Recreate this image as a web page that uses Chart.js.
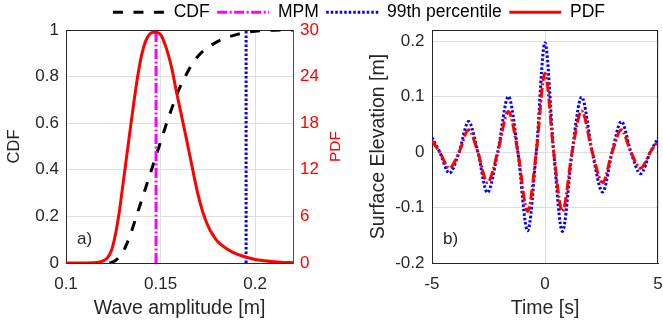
<!DOCTYPE html>
<html>
<head>
<meta charset="utf-8">
<script src="https://cdn.jsdelivr.net/npm/chart.js@4.4.1/dist/chart.umd.min.js"></script>
<style>
  html, body { margin: 0; padding: 0; background: #ffffff; overflow: hidden; width: 663px; height: 327px; }
  #wrap { position: relative; width: 663px; height: 327px; overflow: hidden; }
  canvas { position: absolute; }
  #cLeft { left: 0; top: 0; }
  #cRight { left: 350px; top: 0; }
  #cLegend { left: 55px; top: -4px; }
</style>
</head>
<body>
<div id="wrap">
  <canvas id="cLeft" width="350" height="327"></canvas>
  <canvas id="cRight" width="313" height="327"></canvas>
  <canvas id="cLegend" width="608" height="90"></canvas>
</div>
<script>
// ---------------- DATA ----------------
// Panel a): PDF of wave amplitude
const pdfAmplitude = [0.100,0.110,0.116,0.119,0.122,0.124,0.126,0.128,0.130,0.132,0.134,0.136,0.138,0.140,0.142,0.144,0.146,0.1476,0.150,0.152,0.154,0.156,0.158,0.160,0.162,0.164,0.166,0.168,0.170,0.172,0.174,0.176,0.178,0.180,0.184,0.188,0.192,0.196,0.200,0.205,0.210,0.215,0.220];
const pdfValues    = [0,0,0.05,0.2,0.7,1.6,3.5,6.3,9.9,13.6,17.3,20.9,24.2,26.8,28.5,29.4,29.7,29.7,29.4,28.4,26.9,25.0,22.5,20.2,17.9,15.6,13.2,10.8,8.6,6.8,5.4,4.3,3.5,2.8,2.0,1.4,1.0,0.7,0.45,0.28,0.15,0.08,0.04];
// Panel a): CDF of wave amplitude
const cdfAmplitude = [0.123,0.126,0.128,0.130,0.132,0.134,0.136,0.138,0.140,0.142,0.144,0.146,0.148,0.150,0.152,0.154,0.156,0.158,0.160,0.163,0.166,0.170,0.175,0.180,0.185,0.190,0.195,0.200,0.210,0.220];
const cdfValues    = [0,0.01,0.025,0.045,0.08,0.12,0.17,0.22,0.27,0.32,0.37,0.42,0.47,0.52,0.57,0.62,0.665,0.71,0.75,0.80,0.845,0.89,0.925,0.95,0.968,0.98,0.99,0.995,0.999,1.0];
// Vertical markers (amplitude, CDF extent)
const mpmAmplitude = [0.1476, 0.1476];
const p99Amplitude = [0.1952, 0.1952];
const markerCdf    = [0, 1];

// Panel b): surface elevation time series
const timeSec      = [-5,-4.66,-4.23,-3.8,-3.38,-2.97,-2.55,-2.09,-1.62,-1.2,-0.77,-0.385,0,0.385,0.77,1.2,1.62,2.09,2.55,2.97,3.38,3.8,4.23,4.66,5];
const elevP99      = [0.026,0,-0.038,0,0.055,0,-0.073,0,0.1,0,-0.142,0,0.197,0,-0.143,0,0.099,0,-0.072,0,0.055,0,-0.039,0,0.025];
const elevMPM      = [0.02,0,-0.029,0,0.04,0,-0.055,0,0.073,0,-0.107,0,0.142,0,-0.107,0,0.074,0,-0.055,0,0.04,0,-0.029,0,0.02];

// Tick values / labels
const ampTicks       = [0.1, 0.15, 0.2];
const ampTickLabels  = ['0.1', '0.15', '0.2'];
const cdfTicks       = [0, 0.2, 0.4, 0.6, 0.8, 1];
const cdfTickLabels  = ['0', '0.2', '0.4', '0.6', '0.8', '1'];
const pdfTicks       = [0, 6, 12, 18, 24, 30];
const pdfTickLabels  = ['0', '6', '12', '18', '24', '30'];
const timeTicks      = [-5, 0, 5];
const timeTickLabels = ['-5', '0', '5'];
const elevTicks      = [-0.2, -0.1, 0, 0.1, 0.2];
const elevTickLabels = ['-0.2', '-0.1', '0', '0.1', '0.2'];

// ---------------- STYLE ----------------
const FONT = "'Liberation Sans', Arial, Helvetica, sans-serif";
Chart.defaults.font.family = FONT;
Chart.defaults.color = '#262626';
const AXIS = '#262626';
const GRID = '#dfdfdf';

const styleCDF  = { label: 'CDF', borderColor: '#000000', borderWidth: 3, borderDash: [10, 10.5] };
const styleMPM  = { label: 'MPM', borderColor: '#ff00ff', borderWidth: 3, borderDash: [10, 2.5, 2, 2.5] };
const styleP99  = { label: '99th percentile', borderColor: '#0000ff', borderWidth: 3, borderDash: [2.5, 2] };
const stylePDF  = { label: 'PDF', borderColor: '#ff0000', borderWidth: 3, borderDash: [] };

const pts = (xs, ys) => xs.map((x, i) => ({ x: x, y: ys[i] }));
const setTicks = (vals) => (s) => { s.ticks = vals.map(v => ({ value: v })); };
const fitH = (h) => (s) => { s.height = h; s.paddingLeft = 0; s.paddingRight = 0; };
const fitW = (w) => (s) => { s.width = w; s.paddingTop = 0; s.paddingBottom = 0; };

const framePlugin = {
  id: 'frame',
  beforeDatasetsDraw(chart, args, opts) {
    const { ctx, chartArea: a } = chart;
    ctx.save();
    ctx.strokeStyle = AXIS;
    ctx.lineWidth = 1;
    ctx.beginPath();
    const t = Math.round(a.top) + 0.5;
    ctx.moveTo(a.left, t); ctx.lineTo(a.right, t);
    if (opts.right) {
      const r = Math.round(a.right) - 0.5;
      ctx.moveTo(r, a.top); ctx.lineTo(r, a.bottom);
    }
    ctx.stroke();
    ctx.restore();
  },
  afterDatasetsDraw(chart, args, opts) {
    const { ctx, chartArea: a } = chart;
    ctx.save();
    ctx.font = '17px ' + FONT;
    ctx.fillStyle = AXIS;
    ctx.textBaseline = 'middle';
    ctx.textAlign = 'left';
    ctx.fillText(opts.panel, a.left + 11, a.bottom - 24);
    ctx.restore();
    if (opts.rightTitle) {
      const s = chart.scales[opts.rightTitle.scale];
      ctx.save();
      ctx.translate(s.right - 14.5, (s.top + s.bottom) / 2);
      ctx.rotate(-Math.PI / 2);
      ctx.font = '15.5px ' + FONT;
      ctx.fillStyle = opts.rightTitle.color;
      ctx.textAlign = 'center';
      ctx.textBaseline = 'middle';
      ctx.fillText(opts.rightTitle.text, 0, 0);
      ctx.restore();
    }
  }
};

const common = {
  responsive: false,
  animation: false,
  events: [],
  elements: { point: { radius: 0 } }
};

// ---------------- LEFT CHART ----------------
new Chart(document.getElementById('cLeft'), {
  type: 'line',
  data: {
    datasets: [
      Object.assign({}, stylePDF, { data: pts(pdfAmplitude, pdfValues), yAxisID: 'yPDF', cubicInterpolationMode: 'monotone', fill: false, pointRadius: 0 }),
      Object.assign({}, styleMPM, { data: pts(mpmAmplitude, markerCdf), yAxisID: 'y', fill: false, pointRadius: 0 }),
      Object.assign({}, styleP99, { data: pts(p99Amplitude, markerCdf), yAxisID: 'y', fill: false, pointRadius: 0 }),
      Object.assign({}, styleCDF, { data: pts(cdfAmplitude, cdfValues), yAxisID: 'y', cubicInterpolationMode: 'monotone', fill: false, pointRadius: 0 })
    ]
  },
  options: Object.assign({}, common, {
    layout: { padding: { top: 30, left: 0, right: 0, bottom: 0 } },
    plugins: {
      legend: { display: false }, tooltip: { enabled: false },
      frame: { right: false, panel: 'a)', rightTitle: { scale: 'yPDF', text: 'PDF', color: '#ff0000' } }
    },
    scales: {
      x: {
        type: 'linear', min: 0.1, max: 0.22,
        afterBuildTicks: setTicks(ampTicks),
        afterFit: fitH(64),
        ticks: { callback: (v, i) => ampTickLabels[i], padding: 11, font: { size: 17 }, color: AXIS, maxRotation: 0, autoSkip: false },
        grid: { color: GRID, lineWidth: 1, drawTicks: false },
        border: { display: true, color: AXIS, width: 1 },
        title: { display: true, text: 'Wave amplitude [m]', font: { size: 19.5 }, color: AXIS, padding: { top: 0, bottom: 7 } }
      },
      y: {
        type: 'linear', position: 'left', min: 0, max: 1,
        afterBuildTicks: setTicks(cdfTicks),
        afterFit: fitW(66),
        ticks: { callback: (v, i) => cdfTickLabels[i], padding: 7, font: { size: 17 }, color: AXIS, autoSkip: false },
        grid: { color: GRID, lineWidth: 1, drawTicks: false },
        border: { display: true, color: AXIS, width: 1 },
        title: { display: true, text: 'CDF', font: { size: 16.5 }, color: AXIS, padding: { top: 4.5, bottom: 0 } }
      },
      yPDF: {
        type: 'linear', position: 'right', min: 0, max: 30,
        afterBuildTicks: setTicks(pdfTicks),
        afterFit: fitW(57),
        ticks: { callback: (v, i) => pdfTickLabels[i], padding: 7, font: { size: 17 }, color: '#ff0000', autoSkip: false },
        grid: { display: false, drawTicks: false },
        border: { display: true, color: '#ff0000', width: 1 },
        title: { display: false, text: 'PDF' }
      }
    }
  }),
  plugins: [framePlugin]
});

// ---------------- RIGHT CHART ----------------
new Chart(document.getElementById('cRight'), {
  type: 'line',
  data: {
    datasets: [
      { label: 'MPM', data: pts(timeSec, elevMPM), borderColor: '#ff0000', borderWidth: 3, borderDash: [10, 2.5, 2, 2.5], cubicInterpolationMode: 'monotone', fill: false, pointRadius: 0 },
      { label: '99th percentile', data: pts(timeSec, elevP99), borderColor: '#0000ff', borderWidth: 3, borderDash: [2.5, 2], cubicInterpolationMode: 'monotone', fill: false, pointRadius: 0 }
    ]
  },
  options: Object.assign({}, common, {
    layout: { padding: { top: 30, left: 0, right: 5, bottom: 0 } },
    plugins: {
      legend: { display: false }, tooltip: { enabled: false },
      frame: { right: true, panel: 'b)' }
    },
    scales: {
      x: {
        type: 'linear', min: -5, max: 5,
        afterBuildTicks: setTicks(timeTicks),
        afterFit: fitH(64),
        ticks: { callback: (v, i) => timeTickLabels[i], padding: 11, font: { size: 17 }, color: AXIS, maxRotation: 0, autoSkip: false },
        grid: { color: GRID, lineWidth: 1, drawTicks: false },
        border: { display: true, color: AXIS, width: 1 },
        title: { display: true, text: 'Time [s]', font: { size: 19.5 }, color: AXIS, padding: { top: 0, bottom: 7 } }
      },
      y: {
        type: 'linear', position: 'left', min: -0.2, max: 0.22,
        afterBuildTicks: setTicks(elevTicks),
        afterFit: fitW(82),
        ticks: { callback: (v, i) => elevTickLabels[i], padding: 7.5, font: { size: 17 }, color: AXIS, autoSkip: false },
        grid: { color: GRID, lineWidth: 1, drawTicks: false },
        border: { display: true, color: AXIS, width: 1 },
        title: { display: true, text: 'Surface Elevation [m]', font: { size: 19.5 }, color: AXIS, padding: { top: 16.6, bottom: 0 } }
      }
    }
  }),
  plugins: [framePlugin]
});

// ---------------- SHARED LEGEND ----------------
new Chart(document.getElementById('cLegend'), {
  type: 'line',
  data: {
    datasets: [styleCDF, styleMPM, styleP99, stylePDF].map(s => Object.assign({}, s, { data: [], pointRadius: 0 }))
  },
  options: {
    responsive: false,
    animation: false,
    events: [],
    layout: { padding: 0 },
    scales: { x: { display: false }, y: { display: false } },
    plugins: {
      tooltip: { enabled: false },
      legend: {
        display: true, position: 'top', align: 'center',
        labels: {
          usePointStyle: true, pointStyle: 'line', pointStyleWidth: 52,
          padding: 7.5, color: '#000000', font: { size: 17.5, family: FONT },
          generateLabels: (chart) => chart.data.datasets.map((ds, i) => ({
            text: ds.label, fillStyle: 'rgba(0,0,0,0)', strokeStyle: ds.borderColor,
            lineWidth: ds.borderWidth, lineDash: ds.borderDash, lineCap: 'butt',
            pointStyle: 'line', hidden: false, datasetIndex: i, fontColor: '#000000'
          }))
        }
      }
    }
  }
});
</script>
</body>
</html>
